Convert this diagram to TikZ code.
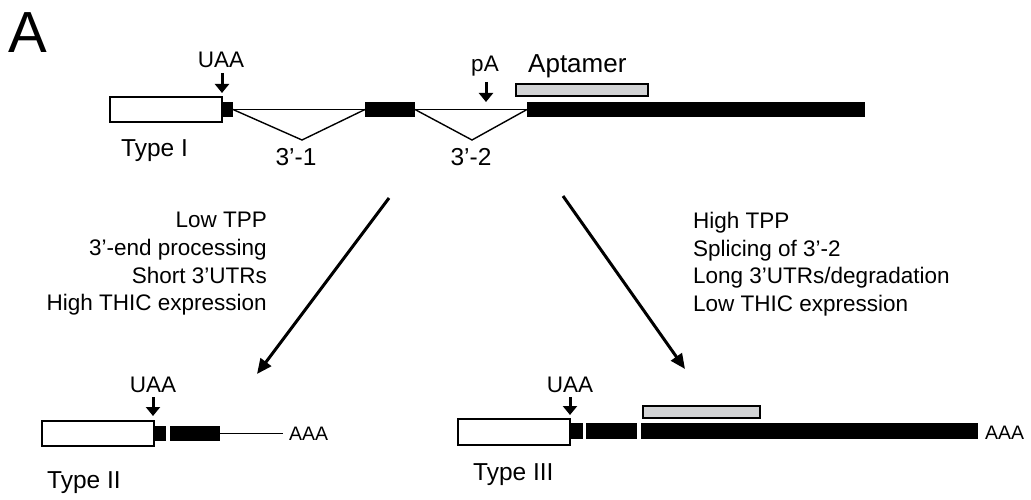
\documentclass[tikz,border=0pt]{standalone}
\usepackage{fontspec}
\setmainfont{Liberation Sans}
\usetikzlibrary{arrows.meta}
\definecolor{aptgrey}{RGB}{210,211,213}
\begin{document}
\begin{tikzpicture}[x=1pt,y=-1pt,
  box/.style={inner sep=0pt,outer sep=0pt,anchor=north west},
  wbox/.style={box,draw,line width=1.2pt,fill=white},
  bbox/.style={box,fill=black},
  gbox/.style={box,draw,line width=1.2pt,fill=aptgrey},
  intron/.style={line width=1.4pt},
  tail/.style={line width=1pt},
  codon/.style={line width=3pt,-{Triangle[length=9pt,width=14pt]}},
  bigarrow/.style={line width=3pt,-{Triangle[length=15pt,width=13pt]}},
  txt/.style={inner sep=0pt,font=\fontsize{22.5}{26}\selectfont},
  lbl/.style={inner sep=0pt,font=\fontsize{22.5}{26}\selectfont},
  typ/.style={inner sep=0pt,font=\fontsize{24.5}{28}\selectfont,anchor=base west},
  cut/.style={inner sep=0pt,font=\fontsize{19.5}{22}\selectfont,anchor=base west}
]
\useasboundingbox (0,0) rectangle (1031,500);

% panel letter
\node[inner sep=0pt,anchor=base west,font=\fontsize{58}{60}\selectfont] (panel) at (8,53) {A};

% ---------- Type I ----------
\node[wbox,minimum width=112pt,minimum height=25pt] (w1) at (110,97) {};
\node[bbox,minimum width=11pt,minimum height=15pt] (b1a) at (222,102) {};
\node[bbox,minimum width=50pt,minimum height=15pt] (b1b) at (365,102) {};
\node[bbox,minimum width=338pt,minimum height=15pt] (b1c) at (527,102) {};
\node[gbox,minimum width=132pt,minimum height=12pt] (g1) at (516,84) {};
\coordinate (v1) at (302,140);
\coordinate (v2) at (472,140);
\draw[intron] (b1a.east) -- (b1b.west);
\draw[intron] (b1a.east) -- (v1) -- (b1b.west);
\draw[intron] (b1b.east) -- (b1c.west);
\draw[intron] (b1b.east) -- (v2) -- (b1c.west);

\node[lbl,anchor=base] (uaa1) at (221,68) {UAA};
\coordinate (u1s) at (222,73);
\coordinate (u1t) at (222,93);
\draw[codon] (u1s) -- (u1t);

\node[txt,anchor=base] (pa) at (485,72) {pA};
\coordinate (pas) at (486,82);
\coordinate (pat) at (486,102);
\draw[codon] (pas) -- (pat);

\node[inner sep=0pt,anchor=base west,font=\fontsize{26}{30}\selectfont] (apt) at (528,73) {Aptamer};

\node[typ] (t1) at (121,157) {Type I};
\node[typ,anchor=base] (s1) at (296,166) {3’-1};
\node[typ,anchor=base] (s2) at (471,166) {3’-2};

% ---------- conditions ----------
\node[txt,anchor=base east] (l1) at (267,227) {Low TPP};
\node[txt,anchor=base east] (l2) at (267,255) {3’-end processing};
\node[txt,anchor=base east] (l3) at (267,283) {Short 3’UTRs};
\node[txt,anchor=base east] (l4) at (267,310) {High THIC expression};

\node[txt,anchor=base west] (r1) at (693,228) {High TPP};
\node[txt,anchor=base west] (r2) at (693,256) {Splicing of 3’-2};
\node[txt,anchor=base west] (r3) at (693,283) {Long 3’UTRs/degradation};
\node[txt,anchor=base west] (r4) at (693,311) {Low THIC expression};

\coordinate (ls) at (389,198);
\coordinate (lt) at (257,374);
\coordinate (rs) at (563,196);
\coordinate (rt) at (685,369);
\draw[bigarrow] (ls) -- (lt);
\draw[bigarrow] (rs) -- (rt);

% ---------- Type II ----------
\node[wbox,minimum width=112pt,minimum height=25pt] (w2) at (42,421) {};
\node[bbox,minimum width=12pt,minimum height=15pt] (b2a) at (154,426) {};
\node[bbox,minimum width=50pt,minimum height=15pt] (b2b) at (170,426) {};
\coordinate (t2) at (283,433.5);
\draw[tail] (b2b.east) -- (t2);
\node[cut] (aaa2) at (289,440) {AAA};
\node[lbl,anchor=base] (uaa2) at (153,392) {UAA};
\coordinate (u2s) at (153,397);
\coordinate (u2t) at (153,416);
\draw[codon] (u2s) -- (u2t);
\node[typ] (t2l) at (47,488) {Type II};

% ---------- Type III ----------
\node[wbox,minimum width=112pt,minimum height=26pt] (w3) at (458,419) {};
\node[bbox,minimum width=13pt,minimum height=16pt] (b3a) at (570,423) {};
\node[bbox,minimum width=51pt,minimum height=16pt] (b3b) at (586,423) {};
\node[bbox,minimum width=337pt,minimum height=16pt] (b3c) at (641,423) {};
\node[gbox,minimum width=117pt,minimum height=12pt] (g3) at (643,406) {};
\node[cut] (aaa3) at (985,439) {AAA};
\node[lbl,anchor=base] (uaa3) at (570,392) {UAA};
\coordinate (u3s) at (570,397);
\coordinate (u3t) at (570,415);
\draw[codon] (u3s) -- (u3t);
\node[typ] (t3l) at (473,480) {Type III};
\end{tikzpicture}
\end{document}
